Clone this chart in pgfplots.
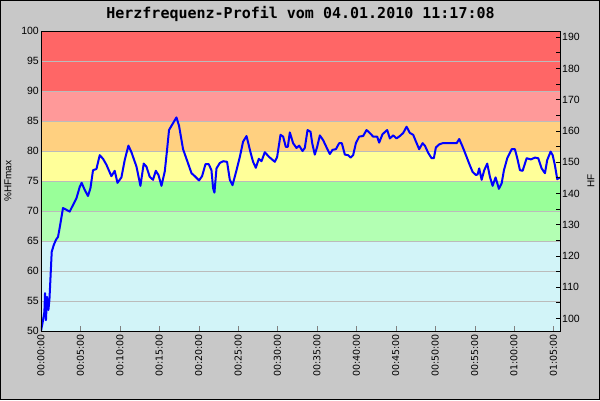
\documentclass[border=0pt]{standalone}
\usepackage{pgfplots}
\pgfplotsset{compat=1.18}
\usepackage{fontspec}
\setmainfont{Liberation Sans}
\newfontfamily\dejavu{DejaVu Sans}
\newfontfamily\monob{DejaVu Sans Mono}
\definecolor{bgc}{HTML}{C8C8C8}
\definecolor{band1}{HTML}{FF6666}
\definecolor{band2}{HTML}{FF9999}
\definecolor{band3}{HTML}{FFD080}
\definecolor{band4}{HTML}{FFFF99}
\definecolor{band5}{HTML}{99FF99}
\definecolor{band6}{HTML}{B3FFB3}
\definecolor{band7}{HTML}{D2F4F8}
\definecolor{gridc}{HTML}{BBBBBB}
\begin{document}
\begin{tikzpicture}
\fill[bgc, use as bounding box] (-41pt,-69pt) rectangle (559pt,331pt);
\draw[black, line width=1pt] (-40.5pt,-68.5pt) rectangle (558.5pt,330.5pt);
\begin{axis}[
  at={(0,0)}, anchor=south west,
  scale only axis, width=519pt, height=300pt,
  xmin=0, xmax=65.83, ymin=50, ymax=100,
  axis on top,
  xtick={0,5,...,65},
  xticklabels={00:00:00,00:05:00,00:10:00,00:15:00,00:20:00,00:25:00,00:30:00,00:35:00,00:40:00,00:45:00,00:50:00,00:55:00,01:00:00,01:05:00},
  xtick pos=bottom, ytick pos=left,
  tick align=inside,
  major tick length=5pt,
  ytick={50,55,...,100},
  ytick style={draw=none},
  /pgf/number format/assume math mode=true,
  xticklabel style={rotate=90, anchor=east, font=\dejavu\fontsize{9.5}{11}\selectfont, inner sep=3pt},
  yticklabel style={font=\fontsize{10.5}{12}\selectfont, inner sep=2pt},
  axis line style={black, line width=0.8pt},
  title={Herzfrequenz-Profil vom 04.01.2010 11:17:08},
  title style={at={(0.5,1)}, anchor=center, yshift=11pt, font=\monob\bfseries\fontsize{15}{18}\selectfont},
  ylabel={\%HFmax},
  ylabel style={at={(rel axis cs:-0.0636,0.5)}, anchor=center, font=\fontsize{10}{12}\selectfont},
]
\addplot[fill=band7, draw=none] coordinates {(0,50) (65.83,50) (65.83,65) (0,65)} -- cycle;
\addplot[fill=band6, draw=none] coordinates {(0,65) (65.83,65) (65.83,70) (0,70)} -- cycle;
\addplot[fill=band5, draw=none] coordinates {(0,70) (65.83,70) (65.83,75) (0,75)} -- cycle;
\addplot[fill=band4, draw=none] coordinates {(0,75) (65.83,75) (65.83,80) (0,80)} -- cycle;
\addplot[fill=band3, draw=none] coordinates {(0,80) (65.83,80) (65.83,85) (0,85)} -- cycle;
\addplot[fill=band2, draw=none] coordinates {(0,85) (65.83,85) (65.83,90) (0,90)} -- cycle;
\addplot[fill=band1, draw=none] coordinates {(0,90) (65.83,90) (65.83,100) (0,100)} -- cycle;
\pgfplotsinvokeforeach{55,60,...,95}{
  \addplot[gridc, line width=0.9pt, no marks] coordinates {(0,#1) (65.83,#1)};
}
\addplot[blue, line width=2pt, no marks, line join=round] coordinates {
(0.00,50.0)(0.22,51.5)(0.43,53.2)(0.51,56.3)(0.63,51.8)(0.76,55.7)(0.94,53.5)(1.07,55.2)(1.19,58.5)(1.36,63.2)
(1.61,64.3)(1.90,65.2)(2.16,65.7)(2.37,67.2)(2.79,70.5)(3.22,70.2)(3.64,69.9)(4.06,71.0)(4.49,72.1)(4.91,74.0)
(5.16,74.7)(5.55,73.5)(5.96,72.5)(6.27,73.8)(6.60,76.8)(7.03,77.0)(7.45,79.3)(7.87,78.7)(8.30,77.7)(8.93,75.8)
(9.35,76.7)(9.70,74.7)(10.20,75.6)(10.62,78.5)(11.09,80.9)(11.47,79.8)(12.11,77.4)(12.61,74.2)(13.03,77.9)(13.37,77.4)
(13.79,75.7)(14.21,75.2)(14.56,76.7)(14.90,76.0)(15.28,74.2)(15.70,76.6)(15.99,80.2)(16.24,83.5)(16.55,84.2)(17.18,85.6)
(17.51,84.2)(18.02,80.3)(18.45,78.7)(19.09,76.3)(19.51,75.8)(20.05,75.1)(20.43,75.8)(20.86,77.8)(21.28,77.8)(21.62,76.8)
(21.83,73.8)(22.00,73.05)(22.26,77.1)(22.68,78.0)(23.10,78.3)(23.60,78.2)(23.95,75.2)(24.29,74.3)(24.80,76.8)(25.22,79.0)
(25.63,81.55)(26.07,82.5)(26.57,79.8)(26.90,78.2)(27.25,77.2)(27.63,78.7)(27.97,78.3)(28.39,79.8)(28.94,79.0)(29.66,78.2)
(29.95,79.0)(30.38,82.7)(30.71,82.4)(31.05,80.7)(31.31,80.7)(31.56,83.1)(31.98,81.3)(32.41,80.5)(32.74,80.9)(33.17,80.0)
(33.46,80.5)(33.81,83.5)(34.19,83.2)(34.40,81.3)(34.73,79.4)(35.03,80.7)(35.37,82.6)(35.79,81.8)(36.22,80.6)(36.64,79.5)
(36.98,80.2)(37.40,80.3)(37.82,81.3)(38.16,81.3)(38.54,79.4)(38.96,79.3)(39.26,78.9)(39.59,79.3)(39.94,81.3)(40.36,82.4)
(40.86,82.5)(41.29,83.5)(41.71,83.0)(42.13,82.4)(42.64,82.4)(42.89,81.4)(43.32,82.8)(43.91,83.5)(44.25,82.1)(44.67,82.6)
(45.10,82.1)(45.52,82.5)(45.94,83.0)(46.37,84.05)(46.79,83.0)(47.21,82.7)(47.55,81.6)(47.97,80.3)(48.40,81.3)(48.69,80.9)
(49.11,79.7)(49.54,78.8)(49.83,78.8)(50.09,80.6)(50.51,81.1)(50.94,81.3)(52.72,81.3)(53.05,82.0)(53.48,80.7)(53.90,79.3)
(54.31,77.9)(54.75,76.5)(55.17,76.0)(55.38,76.1)(55.58,77.1)(55.89,75.2)(56.22,76.8)(56.60,77.9)(56.94,75.7)(57.28,74.2)
(57.66,75.6)(58.08,73.7)(58.43,74.6)(58.72,76.8)(59.14,78.8)(59.70,80.3)(60.11,80.3)(60.41,78.8)(60.75,76.8)(61.09,76.7)
(61.60,78.8)(62.14,78.6)(62.65,78.9)(63.07,78.8)(63.50,77.1)(63.92,76.3)(64.21,78.5)(64.64,79.9)(64.90,79.3)(65.19,77.6)
(65.48,75.3)(65.83,75.6)
};
\end{axis}
\begin{axis}[
  at={(0,0)}, anchor=south west,
  scale only axis, width=519pt, height=300pt,
  xmin=0, xmax=65.83, ymin=96, ymax=192,
  hide x axis,
  axis y line*=right,
  ytick={100,110,...,190},
  minor ytick={105,115,...,185},
  tick align=inside,
  major tick length=4pt, minor tick length=4pt,
  tick style={black, line width=0.8pt},
  axis line style={black, line width=0.8pt},
  /pgf/number format/assume math mode=true,
  yticklabel style={font=\fontsize{10.5}{12}\selectfont, inner sep=2pt},
  ylabel={HF},
  ylabel style={at={(rel axis cs:1.0597,0.5)}, anchor=center, rotate=0, font=\fontsize{10}{12}\selectfont},
]
\addplot[draw=none] coordinates {(0,96) (65.83,192)};
\end{axis}
\end{tikzpicture}
\end{document}
